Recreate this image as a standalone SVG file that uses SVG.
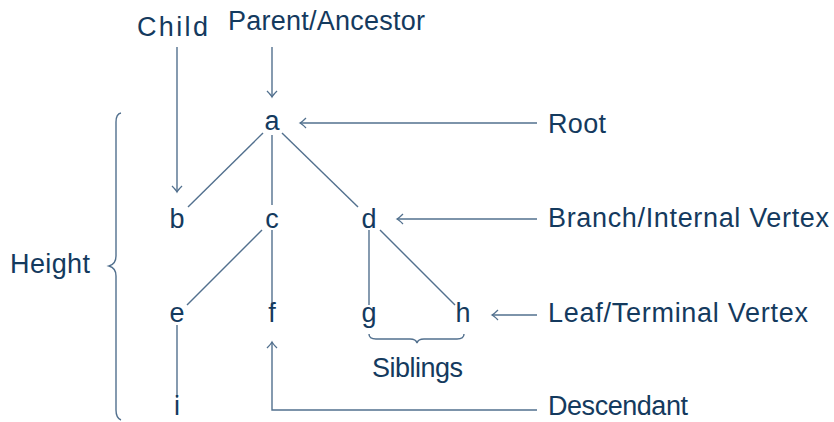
<svg xmlns="http://www.w3.org/2000/svg" width="834" height="422" viewBox="0 0 834 422">
<defs>
<style>
text{font-family:"Liberation Sans",Arial,sans-serif;font-size:27px;fill:#143a5e}
.n{text-anchor:middle}
.e{stroke:#52708e;stroke-width:1.4;fill:none}
.ar{stroke:#52708e;stroke-width:1.4;fill:none;marker-end:url(#to)}
</style>
<marker id="to" viewBox="-8 -6 10 12" markerWidth="10" markerHeight="12" refX="0" refY="0" orient="auto" markerUnits="userSpaceOnUse">
<path d="M-6,-5 Q-2,-1 0,0 Q-2,1 -6,5" fill="none" stroke="#52708e" stroke-width="1.3"/>
</marker>
</defs>
<rect width="834" height="422" fill="#fff"/>
<g id="connectors">
<line class="e" x1="263" y1="133" x2="188" y2="207"/>
<line class="e" x1="272" y1="135" x2="272" y2="205"/>
<line class="e" x1="282" y1="133" x2="358" y2="207"/>
<line class="e" x1="262" y1="230" x2="187" y2="305"/>
<line class="e" x1="272" y1="230" x2="272" y2="305"/>
<line class="e" x1="369" y1="230" x2="369" y2="305"/>
<line class="e" x1="380" y1="230" x2="455" y2="305"/>
<line class="e" x1="177" y1="325" x2="177" y2="398"/>
<line class="ar" x1="177" y1="47" x2="177" y2="192"/>
<line class="ar" x1="272" y1="47" x2="272" y2="97"/>
<line class="ar" x1="537" y1="123" x2="300" y2="123"/>
<line class="ar" x1="537" y1="219" x2="397" y2="219"/>
<line class="ar" x1="537" y1="315" x2="492" y2="315"/>
<path class="ar" d="M537,410 H272 V342"/>
<path class="e" d="M121,113 Q116,114 116,122 V256 Q116,264 109,266 Q116,268 116,276 V410 Q116,418 121,420"/>
<path class="e" d="M369,334 Q369,339 376,339 H410 Q416,339 417,343 Q418,339 424,339 H457 Q464,339 464,334"/>
</g>
<g id="node-a"><text class="n" x="272" y="130">a</text></g>
<g id="node-b"><text class="n" x="177" y="228">b</text></g>
<g id="node-c"><text class="n" x="272" y="228">c</text></g>
<g id="node-d"><text class="n" x="369" y="228">d</text></g>
<g id="node-e"><text class="n" x="177" y="322">e</text></g>
<g id="node-f"><text class="n" x="272" y="322">f</text></g>
<g id="node-g"><text class="n" x="369" y="322">g</text></g>
<g id="node-h"><text class="n" x="463" y="322">h</text></g>
<g id="node-i"><text class="n" x="177" y="415">i</text></g>
<g id="labels">
<text x="137" y="36" textLength="71" lengthAdjust="spacing">Child</text>
<text x="228" y="30" textLength="197" lengthAdjust="spacing">Parent/Ancestor</text>
<text x="548" y="133" textLength="58" lengthAdjust="spacing">Root</text>
<text x="548" y="227" textLength="281" lengthAdjust="spacing">Branch/Internal Vertex</text>
<text x="548" y="322" textLength="260" lengthAdjust="spacing">Leaf/Terminal Vertex</text>
<text x="548" y="415" textLength="140" lengthAdjust="spacing">Descendant</text>
<text x="10" y="273" textLength="80" lengthAdjust="spacing">Height</text>
<text x="372" y="377" textLength="91" lengthAdjust="spacing">Siblings</text>
</g>
</svg>
